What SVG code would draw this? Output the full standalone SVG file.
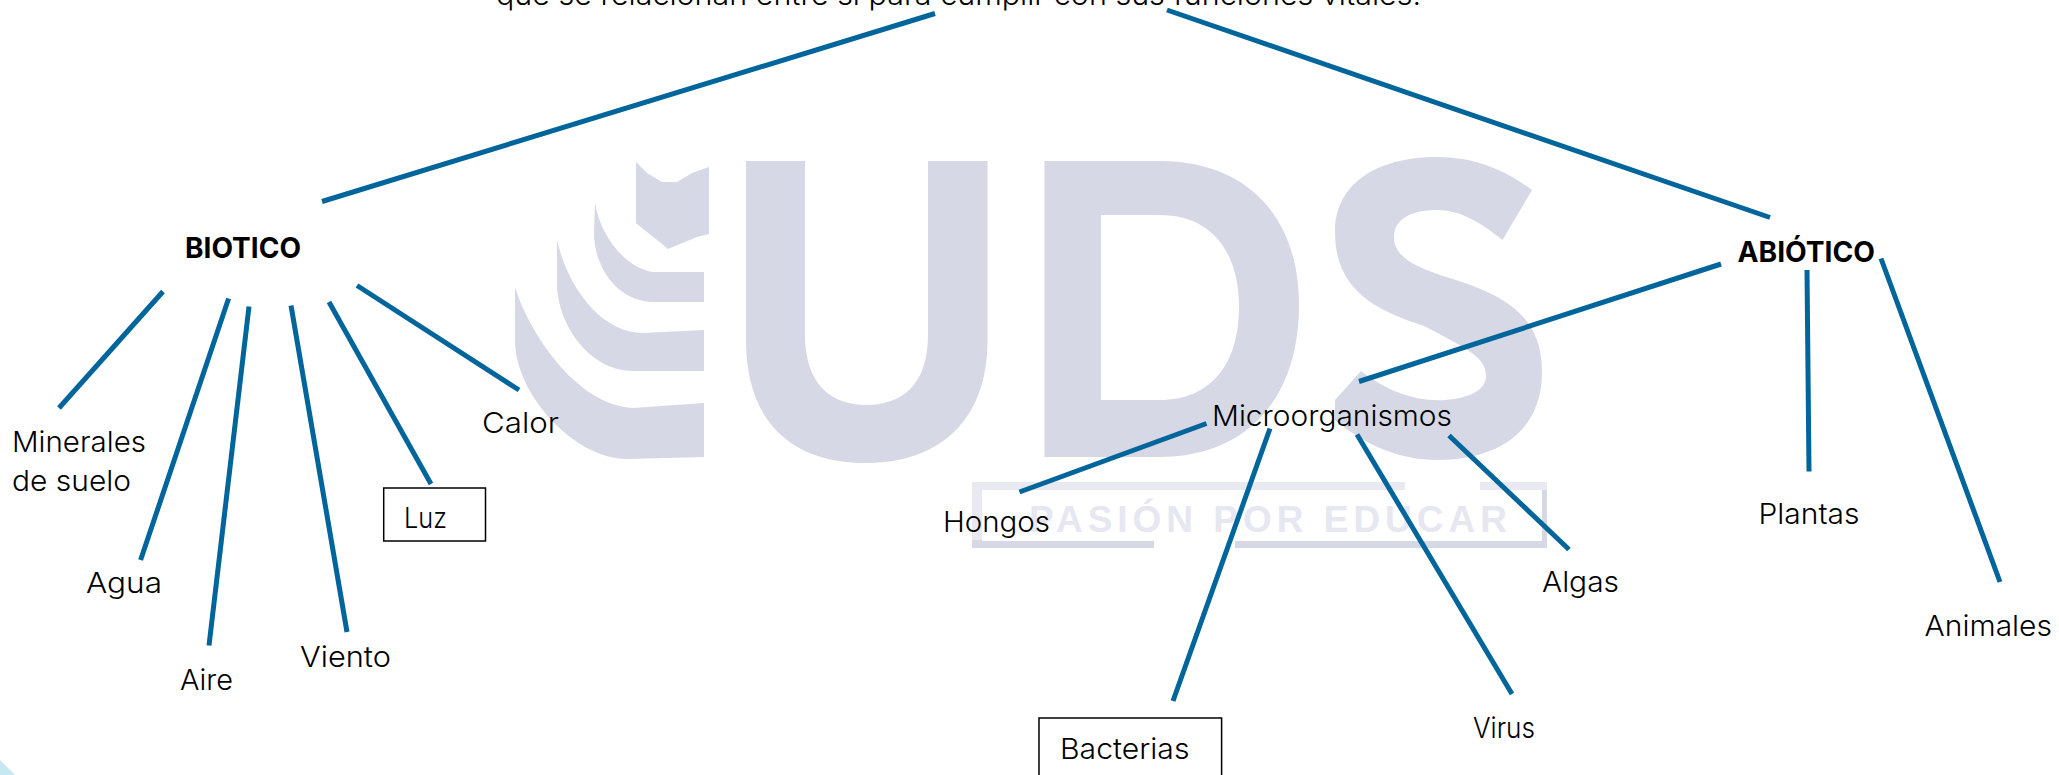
<svg xmlns="http://www.w3.org/2000/svg" width="2059" height="775" viewBox="0 0 2059 775">
<style>
text{font-family:"Inter","Lato","Liberation Sans",sans-serif;font-size:29px;font-weight:300;fill:#000}
.b{font-weight:700}
.c line{stroke:#00659b;stroke-width:5;fill:none}
.box{fill:none;stroke:#000;stroke-width:1.5}
.w{fill:#d6d8e5}
.w2{fill:#e8e9f1}
</style>
<rect width="2059" height="775" fill="#fff"/>
<g id="watermark">
<path class="w" d="M636 162L647 173L662 182H677L692 173L709 167V234L697 237L668 249L657 240L636 223Z"/>
<path class="w" d="M595 203C600 235 625 268 653 272H704V302H650C612 298 594 262 594 233Z"/>
<path class="w" d="M557 240C567 285 600 333 643 333L704 330V371H633C590 371 557 325 557 283Z"/>
<path class="w" d="M515 287C528 330 575 405 633 408L704 403V457L627 459C575 459 515 395 515 340Z"/>
<path class="w" d="M746 161H805V335C805 385 832 405 866 405C902 405 928 385 928 335V161H987.5V340C987.5 425 935 463 866 463C795 463 746 425 746 340Z"/>
<path class="w" fill-rule="evenodd" d="M1044.5 161H1160C1245 161 1299 215 1299 305C1299 400 1245 457 1160 457H1044.5ZM1101 215V400H1160C1210 400 1239 365 1239 307C1239 250 1210 215 1160 215Z"/>
<path class="w" d="M1532 190L1502.5 240C1480 222 1460 210 1437 210C1410 210 1394 220 1394 237C1394 255 1411 265 1440 275C1500 293 1542 312 1542 372C1542 430 1500 460 1437 460C1400 460 1365 445 1335 420V400L1361 371C1385 390 1415 402 1445 400C1470 398 1486 390 1486 376C1486 358 1470 350 1424 326C1375 310 1335 290 1335 232C1335 185 1375 157 1437 157C1475 157 1505 170 1532 190Z"/>
<path class="w2" d="M972 482H1405V490H982V540H972ZM1480 482H1547V490H1480Z"/>
<path class="w" d="M972 540H982V541H1154V548H972ZM1235 541H1542V490H1547V548H1235Z"/>
<text x="1029" y="532" style="font-family:'Liberation Sans',sans-serif;font-size:37px;font-weight:700;fill:#e6e7f0" textLength="478" lengthAdjust="spacing">PASIÓN POR EDUCAR</text>
<path d="M0 760L15 775H0Z" fill="#c5e8f3"/>
</g>
<g id="connectors" class="c">
<line x1="322" y1="201.5" x2="935" y2="13.5"/>
<line x1="1167" y1="10" x2="1770" y2="217.5"/>
<line x1="163" y1="291.5" x2="59" y2="408"/>
<line x1="228.6" y1="298.5" x2="140.6" y2="560"/>
<line x1="249" y1="306.5" x2="209" y2="645.5"/>
<line x1="291" y1="305.5" x2="347" y2="632"/>
<line x1="329" y1="302" x2="431" y2="484"/>
<line x1="357" y1="285.5" x2="519" y2="390"/>
<line x1="1721" y1="264" x2="1359" y2="381.5"/>
<line x1="1807" y1="270" x2="1809" y2="471.5"/>
<line x1="1881" y1="258.5" x2="2000" y2="582"/>
<line x1="1206.5" y1="423.5" x2="1019.5" y2="492"/>
<line x1="1270" y1="428.5" x2="1173" y2="701"/>
<line x1="1357" y1="434.5" x2="1512" y2="694"/>
<line x1="1449" y1="435.5" x2="1569" y2="549.5"/>
</g>
<g id="root"><text x="496" y="5" textLength="925" lengthAdjust="spacingAndGlyphs">que se relacionan entre sí para cumplir con sus funciones vitales.</text></g>
<g id="biotico"><text class="b" x="185" y="258" textLength="116" lengthAdjust="spacingAndGlyphs">BIOTICO</text></g>
<g id="abiotico"><text class="b" x="1737.5" y="262" textLength="137.5" lengthAdjust="spacingAndGlyphs">ABIÓTICO</text></g>
<g id="minerales"><text x="12" y="452" textLength="134" lengthAdjust="spacingAndGlyphs">Minerales</text><text x="12" y="491" textLength="119" lengthAdjust="spacingAndGlyphs">de suelo</text></g>
<g id="agua"><text x="86" y="593" textLength="76" lengthAdjust="spacingAndGlyphs">Agua</text></g>
<g id="aire"><text x="180" y="690" textLength="53" lengthAdjust="spacingAndGlyphs">Aire</text></g>
<g id="viento"><text x="300" y="667" textLength="91" lengthAdjust="spacingAndGlyphs">Viento</text></g>
<g id="luz"><rect class="box" x="383.7" y="488" width="101.8" height="53"/><text x="404" y="528" textLength="43" lengthAdjust="spacingAndGlyphs">Luz</text></g>
<g id="calor"><text x="482" y="432.5" textLength="77" lengthAdjust="spacingAndGlyphs">Calor</text></g>
<g id="hongos"><text x="943" y="531.7" textLength="107" lengthAdjust="spacingAndGlyphs">Hongos</text></g>
<g id="microorganismos"><text x="1212" y="426" textLength="240" lengthAdjust="spacingAndGlyphs">Microorganismos</text></g>
<g id="bacterias"><rect class="box" x="1039" y="718" width="182.6" height="70"/><text x="1060" y="759" textLength="129.5" lengthAdjust="spacingAndGlyphs">Bacterias</text></g>
<g id="virus"><text x="1473" y="737.5" textLength="62" lengthAdjust="spacingAndGlyphs">Virus</text></g>
<g id="algas"><text x="1542" y="592" textLength="77" lengthAdjust="spacingAndGlyphs">Algas</text></g>
<g id="plantas"><text x="1758.5" y="524" textLength="101" lengthAdjust="spacingAndGlyphs">Plantas</text></g>
<g id="animales"><text x="1924.6" y="636" textLength="127.4" lengthAdjust="spacingAndGlyphs">Animales</text></g>
</svg>
